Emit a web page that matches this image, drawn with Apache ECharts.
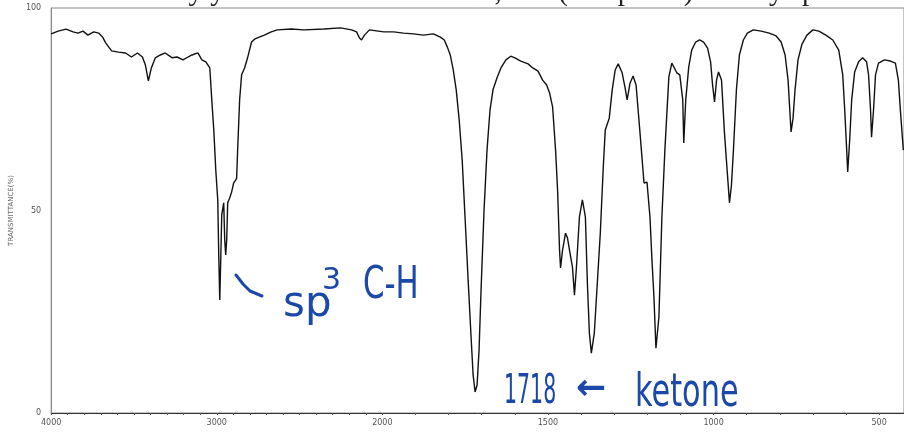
<!DOCTYPE html>
<html>
<head>
<meta charset="utf-8">
<script src="https://cdn.jsdelivr.net/npm/echarts@6/dist/echarts.min.js"></script>
<style>
html,body{margin:0;padding:0;background:#fff;}
#chart{width:904px;height:432px;}
</style>
</head>
<body>
<div id="chart"></div>
<script>
// IR spectrum data (wavenumber cm-1, transmittance %)
const wavenumbers = [4000,3958,3910,3868,3838,3808,3778,3743,3713,3689,3671,3635,3593,3551,3515,3479,3449,3431,3413,3395,3371,3341,3311,3269,3240,3204,3174,3150,3114,3090,3066,3042,3030,3018,3006,2994,2988,2982,2976,2970,2958,2952,2946,2940,2934,2922,2910,2898,2886,2880,2874,2862,2850,2832,2814,2790,2772,2755,2713,2671,2635,2551,2473,2353,2252,2186,2156,2138,2126,2108,2078,2024,
1996,1966,1936,1906,1876,1846,1825,1813,1804,1795,1786,1777,1768,1759,1750,1741,1732,1726,1720,1714,1708,1702,1693,1684,1675,1666,1654,1642,1627,1612,1600,1582,1560,1546,1530,1516,1504,1495,1486,1477,1471,1465,1462,1456,1447,1441,1435,1426,1420,1414,1405,1396,1387,1381,1375,1369,1360,1351,1342,1333,1327,1315,1306,1297,1288,1276,1267,1261,1252,1243,1234,1222,1210,1201,1192,1186,1180,1174,1165,1156,1147,1135,1126,1111,1102,1093,1090,1084,1075,1066,1054,1042,1030,1018,1009,1003,997,991,985,976,967,958,952,946,940,931,922,910,898,880,856,832,811,796,784,775,769,766,760,754,745,733,718,700,682,661,640,622,610,604,598,595,589,583,574,562,550,538,532,526,523,517,511,502,484,466,451,442,436,427];
const transmittance = [93.6,94.3,94.8,94.1,93.8,94.3,93.3,94.1,93.8,92.8,91.4,89.4,89.1,88.9,87.9,88.9,87.9,85.9,82.0,85.2,87.7,88.4,88.9,87.7,87.9,87.2,87.9,88.4,88.9,87.2,86.7,85.2,77.3,69.9,60.0,52.6,39.0,27.9,37.8,48.9,51.9,42.7,39.0,42.7,51.9,53.1,54.6,56.8,57.5,58.0,64.9,77.3,83.5,85.2,87.7,91.6,92.3,92.6,93.3,94.1,94.6,94.8,94.6,94.8,95.1,94.6,94.1,92.6,92.1,93.3,94.6,94.3,
94.1,94.1,93.8,93.6,93.3,93.6,92.8,92.1,90.4,88.4,84.7,79.8,72.3,62.5,47.7,32.8,18.5,9.4,5.2,6.9,15.6,30.4,50.1,64.9,74.8,79.8,82.7,85.2,87.2,88.1,87.7,86.9,86.2,85.2,84.4,82.2,81.0,79.0,75.6,64.9,55.1,40.2,35.8,40.2,44.4,43.2,40.2,36.0,29.1,36.0,48.4,52.6,48.4,32.1,19.8,14.8,19.8,32.1,44.4,60.7,69.9,72.8,79.8,84.7,86.2,84.0,80.2,77.3,81.5,83.2,81.0,69.1,56.8,57.0,48.4,37.8,28.6,16.0,23.7,48.4,64.9,83.0,86.4,84.0,83.5,77.3,66.7,77.3,85.4,89.6,91.6,92.1,91.6,90.1,86.7,81.0,76.8,82.2,84.2,82.2,69.1,58.8,51.9,56.3,64.9,79.8,88.4,92.1,93.8,94.6,94.3,93.8,93.1,91.6,88.4,82.2,73.6,69.4,72.8,79.8,87.2,91.1,93.3,94.6,94.3,93.3,92.1,89.6,83.5,74.8,64.9,59.5,67.4,77.3,84.2,86.7,87.7,86.7,83.5,74.8,68.1,74.8,83.5,86.4,87.2,86.9,86.4,82.2,74.8,64.9];
const xTickLabels = [4000,3000,2000,1500,1000,500];
const yTickLabels = [0,50,100];
const yAxisTitle = 'TRANSMITTANCE(%)';
const note1 = ['sp','3','C-H'];
const note2 = ['1718','\u2190','ketone'];
const pageText = 'the way you can see two of these, and (at 3 peaks) for any sp';

// piecewise IR axis: 4000-2000 at half scale, 2000-400 at full scale
function toU(wn){ return wn >= 2000 ? (4000 - wn) / 2 : 1000 + (2000 - wn); }
function fromU(u){ return u <= 1000 ? 4000 - 2 * u : 2000 - (u - 1000); }

const seriesData = wavenumbers.map((w, i) => [toU(w), transmittance[i]]);
const minorTicks = [];
for (let w = 4000; w >= 500; w -= 100) minorTicks.push(toU(w));

const chart = echarts.init(document.getElementById('chart'), null, {renderer: 'canvas'});
const blue = '#1c48a8';
const hand = '"DejaVu Sans", sans-serif';

chart.setOption({
  animation: false,
  backgroundColor: '#ffffff',
  grid: {left: 45, right: -1, top: 8, bottom: 19, show: true, borderColor: '#8a8a8a', borderWidth: 1},
  xAxis: {
    type: 'value', min: 0, max: 2575,
    axisLine: {show: true, lineStyle: {color: '#333', width: 1}},
    axisTick: {show: true, length: 2, customValues: minorTicks, lineStyle: {color: '#555'}},
    axisLabel: {
      customValues: xTickLabels.map(toU),
      formatter: v => String(Math.round(fromU(v))),
      fontSize: 8, color: '#555', margin: 6, fontFamily: 'DejaVu Sans'
    },
    splitLine: {show: false}
  },
  yAxis: {
    type: 'value', min: 0, max: 100,
    name: yAxisTitle, nameLocation: 'middle', nameGap: 30, nameRotate: 90,
    nameTextStyle: {fontSize: 7, color: '#666', fontFamily: 'DejaVu Sans'},
    axisLine: {show: true, lineStyle: {color: '#8a8a8a'}},
    axisTick: {show: false},
    axisLabel: {customValues: yTickLabels, fontSize: 8, color: '#555', margin: 10, fontFamily: 'DejaVu Sans'},
    splitLine: {show: false}
  },
  series: [{
    type: 'line', data: seriesData, showSymbol: false, smooth: false,
    lineStyle: {color: '#111', width: 1.4}, clip: true
  }],
  graphic: [
    {type: 'text', x: 112, y: -22, silent: true,
     style: {text: pageText, font: '29px "Liberation Serif", serif', fill: '#222'}},
    {type: 'polyline', silent: true,
     shape: {points: [[236, 275], [243, 284], [250, 291], [262, 296]]},
     style: {stroke: blue, lineWidth: 3, fill: null, lineCap: 'round', lineJoin: 'round'}},
    {type: 'text', x: 283, y: 284, silent: true,
     style: {text: note1[0], font: '42px ' + hand, fill: blue}},
    {type: 'text', x: 322, y: 266, silent: true,
     style: {text: note1[1], font: '30px ' + hand, fill: blue}},
    {type: 'text', x: 363, y: 265, scaleX: 0.7, silent: true,
     style: {text: note1[2], font: '44px ' + hand, fill: blue}},
    {type: 'text', x: 504, y: 372, scaleX: 0.5, silent: true,
     style: {text: note2[0], font: '41px ' + hand, fill: blue}},
    {type: 'text', x: 576, y: 372, silent: true,
     style: {text: note2[1], font: 'bold 36px ' + hand, fill: blue}},
    {type: 'text', x: 635, y: 371, scaleX: 0.66, silent: true,
     style: {text: note2[2], font: '46px ' + hand, fill: blue}}
  ]
});
</script>
</body>
</html>
